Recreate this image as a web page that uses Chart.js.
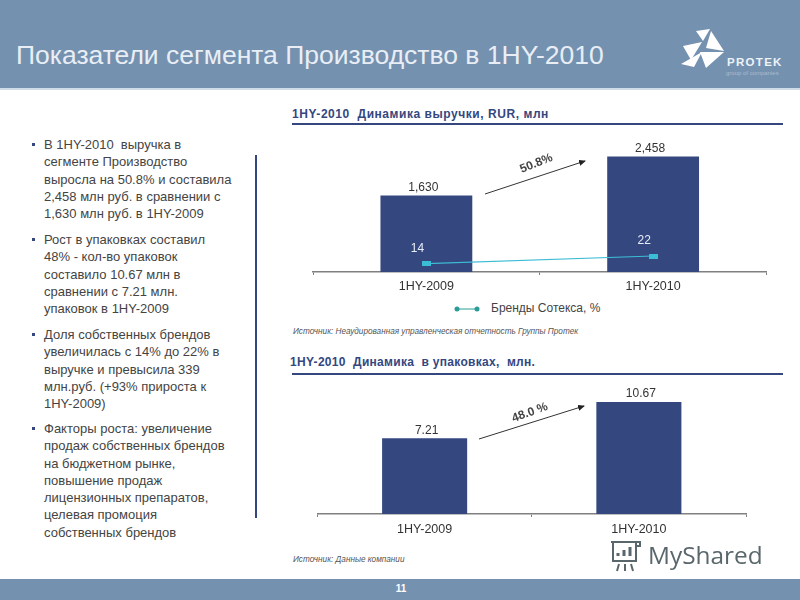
<!DOCTYPE html>
<html>
<head>
<meta charset="utf-8">
<script src="https://cdn.jsdelivr.net/npm/chart.js@4"></script>
<style>
body { margin: 0; background: #fff; font-family: "Liberation Sans", Arial, sans-serif; }
#page { position: relative; width: 800px; height: 600px; overflow: hidden; }
#page > * { position: absolute; }
#header { left: 0; top: 0; width: 800px; height: 88px; background: #7591b0; border-bottom: 2px solid #cfdbe6; }
#title { left: 16px; top: 40px; font-size: 26.5px; line-height: 30px; color: #e8eef4; white-space: nowrap; }
#footer { left: 0; top: 579px; width: 800px; height: 21px; background: #7591b0; }
#pagenum { left: 381px; top: 583px; width: 40px; text-align: center; font-size: 10px; line-height: 12px; font-weight: bold; color: #fff; }
.para { left: 44px; font-size: 13px; line-height: 17.3px; color: #444; white-space: nowrap; }
.para::before { content: ""; position: absolute; left: -12px; top: 7px; width: 3px; height: 3px; background: #34477f; }
#vline { left: 255px; top: 155px; width: 1.5px; height: 363px; background: #34477f; }
.head { left: 292px; font-size: 12px; line-height: 14px; font-weight: bold; color: #34477f; white-space: nowrap; letter-spacing: .3px; }
.rule { left: 292px; width: 491px; height: 2px; background: #34477f; }
.src { left: 293px; font-size: 8.2px; line-height: 10px; font-style: italic; color: #555; white-space: nowrap; }
canvas { position: absolute; }
.growth { font-size: 12px; font-weight: bold; color: #444; white-space: nowrap; transform-origin: center; }
#legend { left: 454px; top: 301px; font-size: 12px; line-height: 14px; color: #444; white-space: nowrap; }
#legend svg { vertical-align: middle; margin-right: 11px; }
#brand { left: 648px; top: 537px; font-family: "Open Sans", sans-serif; font-size: 24.4px; line-height: 36px; color: #59676c; white-space: nowrap; }
#protek { left: 727px; top: 56px; font-size: 11.5px; line-height: 12px; font-weight: bold; color: #eef3f8; letter-spacing: 1.3px; }
#group { left: 726px; top: 69px; font-size: 6px; line-height: 8px; color: #a9bbce; white-space: nowrap; }
</style>
</head>
<body>
<div id="page">
  <div id="header"></div>
  <div id="title">Показатели сегмента Производство в 1HY-2010</div>
  <svg style="left:678px;top:28px" width="50" height="42">
    <polygon points="18,3 32,1 25,13" fill="#fff"/>
    <polygon points="33,3 46,23 28,20" fill="#fff"/>
    <polygon points="5,18 24,14 13,32" fill="#fff"/>
    <polygon points="3,37 24,25 16,40" fill="#fff" transform="translate(0,-1)"/>
    <polygon points="22,24 46,24 28,40" fill="#fff"/>
  </svg>
  <div id="protek">PROTEK</div>
  <div id="group">group of companies</div>

  <div class="para" style="top:136px">В 1HY-2010 &nbsp;выручка в<br>сегменте Производство<br>выросла на 50.8% и составила<br>2,458 млн руб. в сравнении с<br>1,630 млн руб. в 1HY-2009</div>
  <div class="para" style="top:231px">Рост в упаковках составил<br>48% - кол-во упаковок<br>составило 10.67 млн в<br>сравнении с 7.21 млн.<br>упаковок в 1HY-2009</div>
  <div class="para" style="top:326px">Доля собственных брендов<br>увеличилась с 14% до 22% в<br>выручке и превысила 339<br>млн.руб. (+93% прироста к<br>1HY-2009)</div>
  <div class="para" style="top:420px">Факторы роста: увеличение<br>продаж собственных брендов<br>на бюджетном рынке,<br>повышение продаж<br>лицензионных препаратов,<br>целевая промоция<br>собственных брендов</div>
  <div id="vline"></div>

  <div class="head" style="top:107px;letter-spacing:.55px">1HY-2010 &nbsp;Динамика выручки, RUR, млн</div>
  <div class="rule" style="top:123px"></div>
  <canvas id="revenueChart" style="left:290px;top:120px"></canvas>
  <svg style="left:470px;top:150px" width="130" height="60">
    <defs><marker id="tip" markerWidth="7" markerHeight="6" refX="6" refY="3" orient="auto"><path d="M0,0 L7,3 L0,6 z" fill="#222"/></marker></defs>
    <line x1="15" y1="44" x2="115" y2="11" stroke="#333" stroke-width="1" marker-end="url(#tip)"/>
  </svg>
  <div class="growth" style="left:519px;top:156px;transform:rotate(-22deg)">50.8%</div>
  <div id="legend"><svg width="26" height="8"><line x1="3" y1="4" x2="23" y2="4" stroke="#2a9d96"/><circle cx="3" cy="4" r="2.5" fill="#2a9d96"/><circle cx="23" cy="4" r="2.5" fill="#2a9d96"/></svg>Бренды Сотекса, %</div>
  <div class="src" style="top:327px">Источник: Неаудированная управленческая отчетность Группы Протек</div>

  <div class="head" style="top:355px;left:290px">1HY-2010 &nbsp;Динамика &nbsp;в упаковках, &nbsp;млн.</div>
  <div class="rule" style="top:373px"></div>
  <canvas id="packChart" style="left:290px;top:360px"></canvas>
  <svg style="left:470px;top:395px" width="130" height="60">
    <defs><marker id="tip2" markerWidth="7" markerHeight="6" refX="6" refY="3" orient="auto"><path d="M0,0 L7,3 L0,6 z" fill="#222"/></marker></defs>
    <line x1="9" y1="44" x2="114" y2="11" stroke="#333" stroke-width="1" marker-end="url(#tip2)"/>
  </svg>
  <div class="growth" style="left:511px;top:405px;transform:rotate(-20deg)">48.0 %</div>
  <div class="src" style="top:555px">Источник: Данные компании</div>

  <div id="footer"></div>
  <div id="pagenum">11</div>
  <svg style="left:606px;top:537px" width="38" height="36" fill="none" stroke="#59676c" stroke-width="2">
    <path d="M5,5 H30 V24 H7 V5 M30,5 H34 V9 H30"/>
    <path d="M13,27 L11,34 M19,27 V34 M25,27 L27,34"/>
    <path d="M12,19 V16 M18,19 V13 M24,19 V10" stroke-width="3"/>
  </svg>
  <div id="brand">MyShared</div>
</div>

<script>
var categories = ['1HY-2009', '1HY-2010'];
var revenueValues = [1630, 2458];
var revenueLabels = ['1,630', '2,458'];
var brandShare = [14, 22];
var brandShareLabels = ['14', '22'];
var packValues = [7.21, 10.67];
var packLabels = ['7.21', '10.67'];

var font = '"Liberation Sans", Arial, sans-serif';

// Flat rectangle used as the point marker of the line
var linePoint = document.createElement('canvas');
linePoint.width = 9;
linePoint.height = 5;
var linePointCtx = linePoint.getContext('2d');
linePointCtx.fillStyle = '#3cbdd6';
linePointCtx.fillRect(0, 0, 9, 5);

// Writes value labels over the bars and the line points
var valueLabels = {
    id: 'valueLabels',
    afterDatasetsDraw: function(chart) {
        var ctx = chart.ctx;
        chart.data.datasets.forEach(function(ds, i) {
            var meta = chart.getDatasetMeta(i);
            meta.data.forEach(function(el, j) {
                ctx.save();
                ctx.font = '12px ' + font;
                ctx.textAlign = 'center';
                ctx.textBaseline = 'middle';
                ctx.fillStyle = ds.labelColor;
                ctx.fillText(ds.labels[j], el.x + ds.labelDx, el.y + ds.labelDy);
                ctx.restore();
            });
        });
    }
};

function xAxis(labelPadding) {
    return {
        offset: true,
        afterFit: function(scale) { scale.height = 28; },
        border: { color: '#808080', width: 1.5 },
        grid: { display: true, drawOnChartArea: false, drawTicks: true, tickLength: 3, color: '#808080', offset: true },
        ticks: { color: '#333', font: { family: font, size: 12.5 }, padding: labelPadding, maxRotation: 0 }
    };
}

function makeChart(id, width, height, datasets, scales, padding) {
    var canvas = document.getElementById(id);
    canvas.style.width = width + 'px';
    canvas.style.height = height + 'px';
    return new Chart(canvas.getContext('2d'), {
        data: { labels: categories, datasets: datasets },
        options: {
            responsive: false,
            animation: false,
            layout: { padding: padding },
            plugins: { legend: { display: false }, tooltip: { enabled: false } },
            scales: scales
        },
        plugins: [valueLabels]
    });
}

// Revenue Chart
var revenueCanvas = document.getElementById('revenueChart');
revenueCanvas.width = 500; revenueCanvas.height = 180;
makeChart('revenueChart', 500, 180, [
    {
        type: 'line', label: 'Бренды Сотекса, %', data: brandShare, yAxisID: 'share', order: 0,
        borderColor: '#3cbdd6', borderWidth: 1.2, backgroundColor: '#3cbdd6',
        pointStyle: linePoint,
        labels: brandShareLabels, labelColor: '#e8eef8', labelDx: -9, labelDy: -15
    },
    {
        type: 'bar', label: 'Выручка', data: revenueValues, yAxisID: 'y', order: 1,
        backgroundColor: '#34477f', barPercentage: 0.405, categoryPercentage: 1,
        labels: revenueLabels, labelColor: '#333', labelDx: -3, labelDy: -8
    }
], {
    x: xAxis(4),
    y: { display: false, min: 0, max: 3000 },
    share: { display: false, min: 5, max: 155 }
}, { top: 11, left: 23, right: 23.5, bottom: 0 });

// Packages Chart
var packCanvas = document.getElementById('packChart');
packCanvas.width = 500; packCanvas.height = 182;
makeChart('packChart', 500, 182, [
    {
        type: 'bar', label: 'Упаковки', data: packValues, yAxisID: 'y',
        backgroundColor: '#34477f', barPercentage: 0.397, categoryPercentage: 1,
        labels: packLabels, labelColor: '#333', labelDx: 2, labelDy: -8
    }
], {
    x: xAxis(5),
    y: { display: false, min: 0, max: 14 }
}, { top: 7, left: 27.5, right: 44, bottom: 0 });
</script>
</body>
</html>
